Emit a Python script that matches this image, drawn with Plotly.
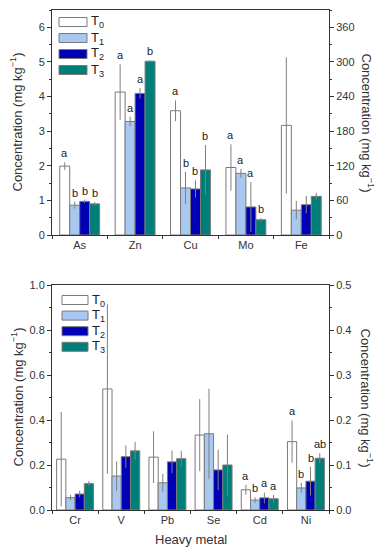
import plotly.graph_objects as go

# ---------------- data ----------------
series = ["T0", "T1", "T2", "T3"]
series_labels = ["T<sub>0</sub>", "T<sub>1</sub>", "T<sub>2</sub>", "T<sub>3</sub>"]

top_metals = ["As", "Zn", "Cu", "Mo", "Fe"]
top_right_metals = ["Fe"]          # plotted against the right axis
top_T0 = [1.99, 4.13, 3.59, 1.95, 190]
top_T1 = [0.86, 3.28, 1.36, 1.78, 43]
top_T2 = [0.97, 4.09, 1.33, 0.81, 52.5]
top_T3 = [0.90, 5.02, 1.88, 0.44, 67]
top_T0_err = [0.11, 0.80, 0.30, 0.67, 118]
top_T1_err = [0.10, 0.14, 0.46, 0.13, 16]
top_T2_err = [0.05, 0.15, 0.25, 0.72, 15]
top_T3_err = [0.05, 0.03, 0.72, 0.05, 6]
top_T0_sig = ["a", "a", "a", "a", ""]
top_T1_sig = ["b", "a", "b", "a", ""]
top_T2_sig = ["b", "a", "b", "a", ""]
top_T3_sig = ["b", "b", "b", "b", ""]

bot_metals = ["Cr", "V", "Pb", "Se", "Cd", "Ni"]
bot_right_metals = ["Cd", "Ni"]
bot_T0 = [0.226, 0.538, 0.235, 0.333, 0.045, 0.152]
bot_T1 = [0.055, 0.151, 0.121, 0.339, 0.022, 0.049]
bot_T2 = [0.071, 0.237, 0.214, 0.178, 0.027, 0.064]
bot_T3 = [0.117, 0.263, 0.228, 0.200, 0.025, 0.115]
bot_T0_err = [0.21, 0.376, 0.115, 0.16, 0.011, 0.047]
bot_T1_err = [0.012, 0.065, 0.04, 0.20, 0.006, 0.011]
bot_T2_err = [0.015, 0.05, 0.05, 0.09, 0.012, 0.032]
bot_T3_err = [0.012, 0.04, 0.035, 0.135, 0.009, 0.011]
bot_T0_sig = ["", "", "", "", "a", "a"]
bot_T1_sig = ["", "", "", "", "b", "b"]
bot_T2_sig = ["", "", "", "", "a", "b"]
bot_T3_sig = ["", "", "", "", "a", "ab"]

# ---------------- style ----------------
PAGE_OFF = 8                     # default body margin of the html page
W, H = 382 - PAGE_OFF, 550 - PAGE_OFF
FONT = "Liberation Sans, Arial, Helvetica, sans-serif"
fills = ["#ffffff", "#a8c8f0", "#0000b4", "#007f78"]
outline = "#7a7a7a"
err_col = "#7f7f7f"
axis_col = "#333333"

X0, X1 = 52, 329
TOP_Y0, TOP_Y1 = 10, 235
BOT_Y0, BOT_Y1 = 285, 510


def px(x):
    return (x - PAGE_OFF) / W


def py(y):
    return 1 - (y - PAGE_OFF) / H


fig = go.Figure()
annotations = []
shapes = []


def add_panel(metals, right_metals, vals, errs, sigs, xa, ya, ya2, bw):
    offs = [-2 * bw + i * bw for i in range(4)]
    for k in range(4):
        for axis, pick in ((ya, lambda m: m not in right_metals), (ya2, lambda m: m in right_metals)):
            idx = [i for i, m in enumerate(metals) if pick(m)]
            if not idx:
                continue
            fig.add_trace(go.Bar(
                x=[metals[i] for i in idx],
                y=[vals[k][i] for i in idx],
                width=bw, offset=offs[k],
                marker=dict(color=fills[k], line=dict(color=outline, width=1)),
                error_y=dict(type="data", array=[errs[k][i] for i in idx],
                             color=err_col, thickness=1, width=0),
                xaxis=xa, yaxis=axis, showlegend=False, name=series[k],
            ))
            for i in idx:
                if sigs[k][i]:
                    annotations.append(dict(
                        x=i + offs[k] + bw / 2, y=vals[k][i] + errs[k][i],
                        xref=xa, yref=axis, text=sigs[k][i], showarrow=False,
                        yanchor="bottom", yshift=1,
                        font=dict(family=FONT, size=11, color="#222")))


add_panel(top_metals, top_right_metals,
          [top_T0, top_T1, top_T2, top_T3],
          [top_T0_err, top_T1_err, top_T2_err, top_T3_err],
          [top_T0_sig, top_T1_sig, top_T2_sig, top_T3_sig],
          "x", "y", "y2", 0.18)
add_panel(bot_metals, bot_right_metals,
          [bot_T0, bot_T1, bot_T2, bot_T3],
          [bot_T0_err, bot_T1_err, bot_T2_err, bot_T3_err],
          [bot_T0_sig, bot_T1_sig, bot_T2_sig, bot_T3_sig],
          "x2", "y3", "y4", 0.2)

# manual legends
for (ly, step, lx0, lx1) in ((17.5, 16.0, 59, 87), (295.5, 15.6, 62, 88)):
    for k in range(4):
        y0 = ly + k * step
        shapes.append(dict(type="rect", xref="paper", yref="paper",
                           x0=px(lx0), x1=px(lx1), y0=py(y0 + 9), y1=py(y0),
                           fillcolor=fills[k], line=dict(color=outline, width=1)))
        annotations.append(dict(x=px(lx1 + 2), y=py(y0 + 4.5), xref="paper", yref="paper",
                                text=series_labels[k], showarrow=False,
                                xanchor="left", yanchor="middle",
                                font=dict(family=FONT, size=13, color="#222")))

tickfont = dict(family=FONT, size=11, color=axis_col)
titlefont = dict(family=FONT, size=13, color=axis_col)
ytitle = "Concentration (mg kg<sup>−1</sup>)"

# axis titles as annotations
for yc in ((TOP_Y0 + TOP_Y1) / 2, (BOT_Y0 + BOT_Y1) / 2):
    annotations.append(dict(x=px(17), y=py(yc), xref="paper", yref="paper",
                            text=ytitle, textangle=-90, showarrow=False,
                            xanchor="center", yanchor="middle", font=titlefont))
    annotations.append(dict(x=px(367), y=py(yc), xref="paper", yref="paper",
                            text=ytitle, textangle=90, showarrow=False,
                            xanchor="center", yanchor="middle", font=titlefont))
annotations.append(dict(x=px((X0 + X1) / 2), y=py(539), xref="paper", yref="paper",
                        text="Heavy metal", showarrow=False,
                        xanchor="center", yanchor="middle", font=titlefont))

common_x = dict(type="category", showline=True, linecolor=axis_col, linewidth=1,
                ticks="outside", tickson="boundaries", ticklen=3, tickcolor=axis_col,
                tickfont=tickfont, showgrid=False, mirror=True, zeroline=False,
                automargin=False)
common_y = dict(showline=True, linecolor=axis_col, linewidth=1, ticks="outside",
                ticklen=4, tickcolor=axis_col, tickfont=tickfont, showgrid=False,
                zeroline=False, automargin=False)

fig.update_layout(
    width=W, height=H, margin=dict(l=0, r=0, t=0, b=0, autoexpand=False),
    paper_bgcolor="white", plot_bgcolor="white",
    barmode="overlay", showlegend=False,
    font=dict(family=FONT, color=axis_col),
    xaxis=dict(common_x, domain=[px(X0), px(X1)], anchor="y",
               categoryorder="array", categoryarray=top_metals, range=[-0.5, 4.5]),
    yaxis=dict(common_y, domain=[py(TOP_Y1), py(TOP_Y0)], anchor="x",
               range=[0, 6.5], dtick=1, tick0=0,
               minor=dict(ticks="outside", ticklen=2, dtick=0.5, tickcolor=axis_col)),
    yaxis2=dict(common_y, overlaying="y", side="right", anchor="x",
                range=[0, 390], dtick=60, tick0=0,
                minor=dict(ticks="outside", ticklen=2, dtick=30, tickcolor=axis_col)),
    xaxis2=dict(common_x, domain=[px(X0), px(X1)], anchor="y3",
                categoryorder="array", categoryarray=bot_metals, range=[-0.5, 5.5]),
    yaxis3=dict(common_y, domain=[py(BOT_Y1), py(BOT_Y0)], anchor="x2",
                range=[0, 1.0], dtick=0.2, tick0=0, tickformat=".1f",
                minor=dict(ticks="outside", ticklen=2, dtick=0.1, tickcolor=axis_col)),
    yaxis4=dict(common_y, overlaying="y3", side="right", anchor="x2",
                range=[0, 0.5], dtick=0.1, tick0=0, tickformat=".1f",
                minor=dict(ticks="outside", ticklen=2, dtick=0.05, tickcolor=axis_col)),
    annotations=annotations, shapes=shapes,
)

fig.write_html("out.html")
